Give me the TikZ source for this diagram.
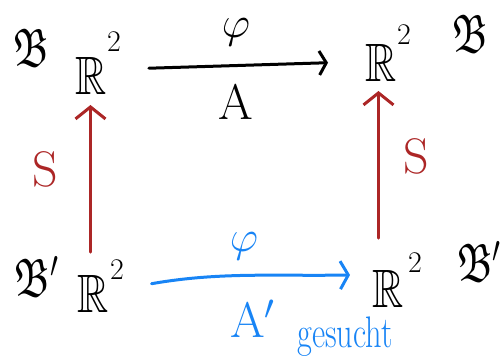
\RequirePackage{fix-cm}
\documentclass[tikz,border=0pt]{standalone}
\usepackage{amssymb}
\usepackage{graphicx}
\usetikzlibrary{arrows.meta}
\definecolor{hred}{RGB}{172,38,38}
\definecolor{hblue}{RGB}{24,132,245}
\newcommand{\Rtwo}[2]{{\fontsize{54}{54}\selectfont\scalebox{0.8}[1]{$\mathbb{R}$}}\hspace{#1}\raisebox{#2}{\fontsize{30}{30}\selectfont 2}}
\newcommand{\Bfrak}{{\fontsize{54}{54}\selectfont\scalebox{0.75}[1]{$\mathfrak{B}$}}}
\newcommand{\Bfrakp}{{\fontsize{54}{54}\selectfont\scalebox{0.75}[1]{$\mathfrak{B}'$}}}
\begin{document}
\begin{tikzpicture}[x=1pt,y=-1pt,
  lbl/.style={inner sep=0pt,outer sep=0pt},
  big/.style={lbl,font=\fontsize{50}{50}\selectfont},
  phistyle/.style={lbl,font=\fontsize{44}{44}\selectfont},
  blackarrow/.style={draw=black,line width=3pt,line cap=round,-{Straight Barb[length=7pt,width=24pt,line width=3pt]}},
  redarrow/.style={draw=hred,line width=3pt,line cap=round,-{Straight Barb[length=12pt,width=30pt,line width=3pt]}},
  bluearrow/.style={draw=hblue,line width=3pt,line cap=round,-{Straight Barb[length=8pt,width=28pt,line width=3pt]}}]
\useasboundingbox (0,0) rectangle (504,358);
% spaces
\node[lbl,anchor=base west] (R1) at (75,95) {\Rtwo{1pt}{43pt}};
\node[lbl,anchor=base west] (R2) at (365,82) {\Rtwo{1pt}{37pt}};
\node[lbl,anchor=base west] (R3) at (77,313) {\Rtwo{2pt}{33pt}};
\node[lbl,anchor=base west] (R4) at (372,308) {\Rtwo{5pt}{35pt}};
% bases
\node[lbl,anchor=base west] (B1) at (13,67) {\Bfrak};
\node[lbl,anchor=base west] (B2) at (452,53) {\Bfrak};
\node[lbl,anchor=base west] (B3) at (15,297) {\Bfrakp};
\node[lbl,anchor=base west] (B4) at (457,282) {\Bfrakp};
% top arrow
\draw[blackarrow,shorten <=28pt,shorten >=37pt] ([yshift=-5.5pt]R1.east) -- ([yshift=-8pt]R2.west);
\node[phistyle] (phi1) at (236,32) {$\varphi$};
\node[big] (A1) at (236,102) {A};
% vertical arrows
\draw[redarrow,shorten <=8pt,shorten >=10pt] ([xshift=-10pt]R3.north) -- ([xshift=-7.5pt]R1.south);
\draw[redarrow,shorten <=15pt,shorten >=9pt] ([xshift=-18.5pt]R4.north) -- ([xshift=-9.5pt]R2.south);
\node[big,text=hred] (S1) at (45,169) {S};
\node[big,text=hred] (S2) at (416,156) {S};
% bottom arrow
\draw[bluearrow,shorten <=28pt,shorten >=22pt] ([yshift=-2pt]R3.east) to[out=10,in=181] ([yshift=6pt]R4.west);
\node[phistyle,text=hblue] (phi2) at (244,246) {$\varphi$};
\node[big,text=hblue,anchor=base west] (A2) at (230,338) {A$'$};
\node[lbl,text=hblue,font=\fontsize{34}{34}\selectfont] (ges) at (345,337) {\scalebox{0.95}[1.3]{gesucht}};
\end{tikzpicture}
\end{document}
